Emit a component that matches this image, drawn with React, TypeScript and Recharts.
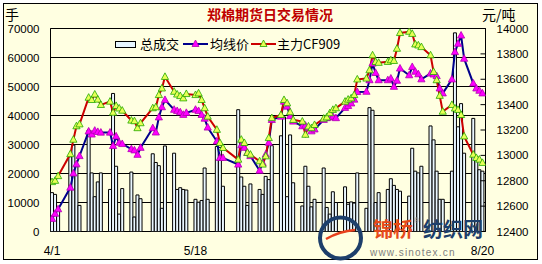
import React from 'react';
import { ComposedChart, Bar, Line, XAxis, YAxis, CartesianGrid, ReferenceArea } from 'recharts';

// Trading days, Zhengzhou cotton futures, 2009
const tradeDates = [
  '4/1', '4/2', '4/3', '4/7', '4/8', '4/9', '4/10', '4/13', '4/14', '4/15', '4/16', '4/17',
  '4/20', '4/21', '4/22', '4/23', '4/24', '4/27', '4/28', '4/29', '4/30',
  '5/4', '5/5', '5/6', '5/7', '5/8', '5/11', '5/12', '5/13', '5/14', '5/15',
  '5/18', '5/19', '5/20', '5/21', '5/22', '5/25', '5/26', '5/27',
  '6/1', '6/2', '6/3', '6/4', '6/5', '6/8', '6/9', '6/10', '6/11', '6/12',
  '6/15', '6/16', '6/17', '6/18', '6/19', '6/22', '6/23', '6/24', '6/25', '6/26', '6/29', '6/30',
  '7/1', '7/2', '7/3', '7/6', '7/7', '7/8', '7/9', '7/10', '7/13', '7/14', '7/15', '7/16', '7/17',
  '7/20', '7/21', '7/22', '7/23', '7/24', '7/27', '7/28', '7/29', '7/30', '7/31',
  '8/3', '8/4', '8/5', '8/6', '8/7', '8/10', '8/11', '8/12', '8/13', '8/14',
  '8/17', '8/18', '8/19', '8/20',
];

// 总成交 (lots)
const totalVolume = [
  13400, 12800, 8000, 25800, 29800, 23000, 9000, 35000, 20200, 12000, 17100, 20200,
  14500, 47600, 22500, 6000, 14800, 20500, 5000, 12600, 11300,
  26800, 23800, 22700, 8000, 29500, 27000, 14500, 15100, 14500, 14300,
  11100, 10100, 10700, 21900, 11100, 29300, 29000, 15600,
  42000, 18800, 15600, 9000, 16400, 14500, 12800, 19000, 17900, 29600,
  33000, 39500, 12000, 33300, 16800, 8800, 22500, 15600, 8500, 11100, 21900, 8300,
  6000, 13700, 10000, 15400, 9400, 10200, 9800, 20200, 8000, 42700, 41800, 10000, 13400,
  14500, 18200, 15900, 14500, 13900, 12200, 28700, 20800, 20200, 22500,
  36400, 31600, 20800, 11100, 11100, 20800, 68500, 36100, 44100, 27000,
  39000, 25900, 21300, 20800,
];

// 均线价 (yuan/ton)
const averagePrice = [
  12500, 12540, 12576, 12746, 12858, 12930, 12995, 13189, 13165, 13195, 13185, 13180,
  13180, 13075, 13150, 13100, 13090, 13050, 13040, 13005, 13060,
  13215, 13181, 13300, 13380, 13437, 13360, 13350, 13340, 13320, 13335,
  13360, 13350, 13320, 13290, 13220, 13111, 12980, 12980,
  12928, 13080, 13060, 13020, 12995, 12880, 12940, 13006, 13100, 13280,
  13306, 13424, 13385, 13310, 13267, 13230, 13235, 13215, 13190, 13205, 13280, 13294,
  13300, 13306, 13294, 13375, 13390, 13410, 13440, 13500, 13502, 13593, 13724, 13650, 13593,
  13593, 13606, 13541, 13589, 13685, 13632, 13697, 13660, 13640, 13600,
  13646, 13638, 13625, 13528, 13489, 13599, 13815, 13880, 13945, 13762,
  13567, 13528, 13510, 13489,
];

// 主力CF909 (yuan/ton)
const cf909Price = [
  12790, 12800, 12837, 13010, 13124, 13230, 13245, 13455, 13437, 13480, 13440, 13398,
  13424, 13337, 13390, 13370, 13353, 13275, 13270, 13215, 13254,
  13372, 13380, 13476, 13528, 13619, 13502, 13480, 13468, 13450, 13484,
  13476, 13489, 13437, 13372, 13306, 13202, 13098, 13059,
  12967, 13124, 13098, 13020, 13006, 12954, 12928, 12993, 13137, 13294,
  13319, 13437, 13411, 13340, 13280, 13267, 13163, 13228, 13215, 13240, 13290, 13300,
  13333, 13359, 13372, 13424, 13440, 13450, 13476, 13599, 13606, 13671, 13789, 13737, 13730,
  13737, 13750, 13745, 13841, 13965, 13975, 13958, 13875, 13867, 13854,
  13789, 13658, 13593, 13470, 13345, 13398, 13370, 13359, 13319, 13150,
  13006, 12980, 12967, 12941,
];

const volumeTicks = [0, 10000, 20000, 30000, 40000, 50000, 60000, 70000];
const priceTicks = [12400, 12600, 12800, 13000, 13200, 13400, 13600, 13800, 14000];
const dateLabels = ['4/1', '5/18', '8/20'];

const YEAR = 2009;
const dayOffset = (md: string) => {
  const [m, d] = md.split('/').map(Number);
  return Math.round((Date.UTC(YEAR, m - 1, d) - Date.UTC(YEAR, 3, 1)) / 86400000);
};

const rows = tradeDates.map((date, i) => ({
  day: dayOffset(date),
  date,
  volume: totalVolume[i],
  avg: averagePrice[i],
  main: cf909Price[i],
}));
const dayTicks = dateLabels.map(dayOffset);
const labelByDay = new Map(dateLabels.map((l) => [dayOffset(l), l] as [number, string]));

const AXIS_FONT = '"Liberation Sans", Arial, sans-serif';
const CJK_FONT = '"Noto Sans CJK SC", sans-serif';

const triangleDot = (prefix: string, fill: string, stroke: string) => (props: any) => {
  const { cx, cy, index } = props;
  if (cx == null || cy == null) return <g key={`${prefix}-${index}`} />;
  return (
    <path
      key={`${prefix}-${index}`}
      d={`M${cx},${cy - 4} L${cx + 3.6},${cy + 2.6} L${cx - 3.6},${cy + 2.6} Z`}
      fill={fill}
      stroke={stroke}
      strokeWidth={0.8}
    />
  );
};

const PriceTick = (props: any) => {
  const { x, y, payload } = props;
  return (
    <g>
      <line x1={x - 5} x2={x} y1={y} y2={y} stroke="#000" strokeWidth={1} />
      <text x={x + 11} y={y} dy="0.35em" textAnchor="start" fontSize={11.5} fontFamily={AXIS_FONT} fill="#000">
        {payload.value}
      </text>
    </g>
  );
};

const LegendLineIcon = ({ color, fill, stroke }: { color: string; fill: string; stroke: string }) => (
  <svg width={25} height={10} style={{ display: 'block' }}>
    <line x1={0} x2={25} y1={5} y2={5} stroke={color} strokeWidth={2} />
    <path d="M12.5,1 L16,7.5 L9,7.5 Z" fill={fill} stroke={stroke} strokeWidth={0.8} />
  </svg>
);

const abs = (left: number, top: number, extra: React.CSSProperties = {}): React.CSSProperties => ({
  position: 'absolute',
  left,
  top,
  whiteSpace: 'nowrap',
  ...extra,
});

export default function App() {
  return (
    <div style={{ position: 'absolute', left: 0, top: 0, width: 542, height: 264, background: '#fff', overflow: 'hidden' }}>
      <div
        style={{
          position: 'absolute',
          left: 3,
          top: 3,
          width: 535,
          height: 257,
          border: '1px solid #000',
          boxSizing: 'border-box',
          background: '#FFFFE1',
        }}
      />
      <div style={{ position: 'absolute', left: 0, top: 0 }}>
        <ComposedChart
          width={542}
          height={264}
          data={rows}
          margin={{ top: 28.5, right: 0.5, bottom: 8.5, left: 7.5 }}
        >
          <CartesianGrid yAxisId="vol" vertical={false} stroke="#000" strokeWidth={1} />
          <XAxis
            dataKey="day"
            type="number"
            domain={[-0.5, 142]}
            ticks={dayTicks}
            interval={0}
            tickFormatter={(v: number) => labelByDay.get(v) ?? ''}
            axisLine={false}
            tickLine={false}
            tickSize={0}
            tickMargin={15}
            height={24}
            tick={{ fontSize: 12, fill: '#000', fontFamily: AXIS_FONT }}
            allowDataOverflow
          />
          <YAxis
            yAxisId="vol"
            orientation="left"
            domain={[0, 70000]}
            ticks={volumeTicks}
            interval={0}
            width={43}
            axisLine={false}
            tickLine={false}
            tickSize={0}
            tickMargin={11}
            tick={{ fontSize: 11.5, fill: '#000', fontFamily: AXIS_FONT }}
            allowDataOverflow
          />
          <YAxis
            yAxisId="price"
            orientation="right"
            domain={[12400, 14000]}
            ticks={priceTicks}
            interval={0}
            width={56}
            axisLine={false}
            tickLine={false}
            tickSize={0}
            tickMargin={0}
            tick={<PriceTick />}
            allowDataOverflow
          />
          <Bar
            yAxisId="vol"
            dataKey="volume"
            barSize={3}
            fill="#EAF7FF"
            stroke="#000"
            strokeWidth={1}
            isAnimationActive={false}
          />
          <Line
            yAxisId="price"
            dataKey="avg"
            type="linear"
            stroke="#00008B"
            strokeWidth={2}
            dot={triangleDot('avg', '#FF00FF', '#B000B0')}
            activeDot={false}
            isAnimationActive={false}
          />
          <Line
            yAxisId="price"
            dataKey="main"
            type="linear"
            stroke="#CC0000"
            strokeWidth={2}
            dot={triangleDot('main', '#E8FF55', '#22AA00')}
            activeDot={false}
            isAnimationActive={false}
          />
          <ReferenceArea
            yAxisId="vol"
            x1={-0.5}
            x2={142}
            y1={0}
            y2={70000}
            fill="none"
            stroke="#000"
            strokeWidth={1}
            strokeOpacity={1}
          />
        </ComposedChart>
      </div>

      {/* titles and units */}
      <div style={abs(5, 6, { fontSize: 14, lineHeight: '16px', fontFamily: CJK_FONT, color: '#000' })}>手</div>
      <div
        style={abs(270, 6, {
          transform: 'translateX(-50%)',
          fontSize: 14,
          lineHeight: '16px',
          fontWeight: 'bold',
          fontFamily: CJK_FONT,
          color: '#C00000',
        })}
      >
        郑棉期货日交易情况
      </div>
      <div style={abs(482, 6, { fontSize: 14, lineHeight: '16px', fontFamily: CJK_FONT, color: '#000' })}>元/吨</div>

      {/* legend */}
      <div style={abs(115, 41, { width: 21, height: 7, background: '#E6F6FF', border: '1px solid #000', boxSizing: 'border-box' })} />
      <div style={abs(140, 36, { fontSize: 13, lineHeight: '16px', fontFamily: CJK_FONT, color: '#000' })}>总成交</div>
      <div style={abs(183, 39)}>
        <LegendLineIcon color="#00008B" fill="#FF00FF" stroke="#B000B0" />
      </div>
      <div style={abs(210, 36, { fontSize: 13, lineHeight: '16px', fontFamily: CJK_FONT, color: '#000' })}>均线价</div>
      <div style={abs(251, 39)}>
        <LegendLineIcon color="#CC0000" fill="#E8FF55" stroke="#22AA00" />
      </div>
      <div style={abs(277, 36, { fontSize: 13, lineHeight: '16px', fontFamily: CJK_FONT, color: '#000' })}>主力CF909</div>

      {/* site mark */}
      <svg width={542} height={264} style={{ position: 'absolute', left: 0, top: 0, pointerEvents: 'none' }}>
        <circle cx={340.5} cy={238} r={20.5} fill="none" stroke="#1D3F6B" strokeWidth={4} />
        <path d="M326,239 Q340,231 355,230" stroke="#E8401C" strokeWidth={2.5} fill="none" />
        <text x={373} y={237} fontSize={20} fontWeight="bold" fill="#E64A19" fontFamily={CJK_FONT}>
          锦桥
        </text>
        <text x={414} y={223} fontSize={7} fill="#888" fontFamily={AXIS_FONT}>
          ®
        </text>
        <text x={423} y={237} fontSize={20} fontWeight="bold" fill="#1D3F6B" fontFamily={CJK_FONT}>
          纺织网
        </text>
        <text x={370} y={256} fontSize={10} fill="#808080" fontFamily={AXIS_FONT} letterSpacing={1.2}>
          www.sinotex.cn
        </text>
      </svg>
    </div>
  );
}
